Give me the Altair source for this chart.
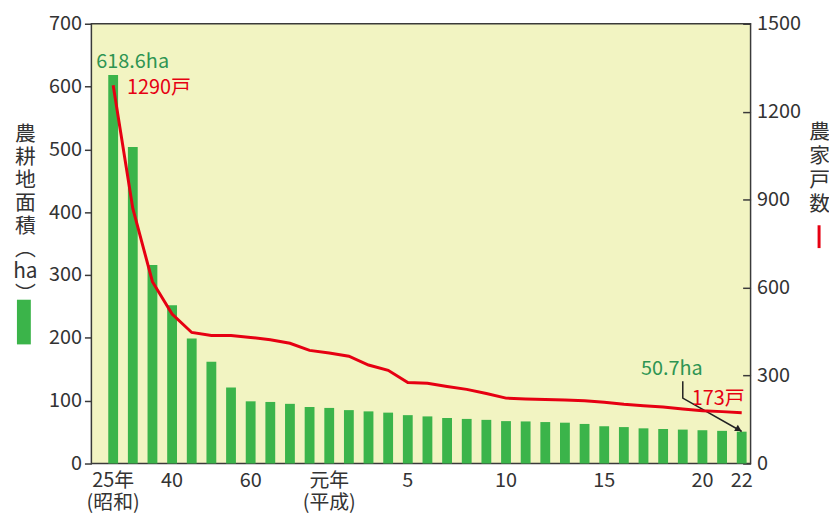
import altair as alt
import pandas as pd

# ---------------- data ----------------
categories = ["S25", "S30", "S35", "S40", "S45", "S50", "S55", "S60", "S61", "S62", "S63",
              "H1", "H2", "H3", "H4", "H5", "H6", "H7", "H8", "H9", "H10", "H11",
              "H12", "H13", "H14", "H15", "H16", "H17", "H18", "H19", "H20", "H21", "H22"]
area_ha = [618.6, 504, 316, 252, 199, 162, 121, 99, 98, 95, 90,
           88.5, 85, 83, 81, 77, 75, 72.5, 71, 69.5, 67.5, 67,
           66, 65, 63, 59.5, 58, 56, 55, 54, 53, 52, 50.7]
households = [1290, 870, 620, 510, 447, 437, 437, 430, 422, 410, 386,
              377, 366, 336, 318, 276, 274, 263, 253, 239, 223, 220,
              218, 217, 214, 209, 202, 197, 193, 186, 180, 177, 173]

tick_keys = ["S25", "S40", "S60", "H1", "H5", "H10", "H15", "H20", "H22"]
tick_lines = [["25年", "(昭和)"], ["40"], ["60"], ["元年", "(平成)"], ["5"], ["10"], ["15"], ["20"], ["22"]]

left_ticks = [0, 100, 200, 300, 400, 500, 600, 700]
right_ticks = [0, 300, 600, 900, 1200, 1500]
left_title = ["農", "耕", "地", "面", "積", "︵", "ha", "︶"]
right_title = ["農", "家", "戸", "数"]

ann_first_cat, ann_first_area, ann_first_hh = "S25", 618.6, 1290
ann_last_cat, ann_last_area, ann_last_hh = "H22", 50.7, 173
arrow_cats = ["H19", "H19", "H22"]
arrow_vals = [131, 104, 51]

GREEN = "#3bb44a"
GREEN_TXT = "#2e9452"
RED = "#e60012"
AXIS = "#3a3a3a"
FONT = "Noto Sans CJK JP"

df = pd.DataFrame({"cat": categories, "area": area_ha, "hh": households})
df_arrow = pd.DataFrame({"cat": arrow_cats, "area": arrow_vals, "i": list(range(len(arrow_cats)))})
df_one = pd.DataFrame({"k": [0]})


def js_list(lines):
    return "[" + ",".join("'" + s + "'" for s in lines) + "]"


label_expr = "''"
for k, lines in reversed(list(zip(tick_keys, tick_lines))):
    label_expr = f"datum.value == '{k}' ? {js_list(lines)} : ({label_expr})"

xscale = alt.Scale(domain=categories, paddingInner=0.5, paddingOuter=0.53, align=0.81)
X = alt.X("cat:N", scale=xscale,
          axis=alt.Axis(values=tick_keys, labelExpr=label_expr, title=None, domain=False,
                        ticks=False, labelAngle=0, labelFontSize=20, labelPadding=7,
                        labelLineHeight=22, labelColor="#333", grid=False, labelFont=FONT))
Xn = alt.X("cat:N", scale=xscale)

lscale = alt.Scale(domain=[0, 700], nice=False)
rscale = alt.Scale(domain=[0, 1500], nice=False)

YL = alt.Y("area:Q", scale=lscale,
           axis=alt.Axis(values=left_ticks, format="d", title=left_title, titleAngle=0,
                         titleX=-67, titleY=101, titleAlign="center", titleBaseline="top",
                         titleFontSize=21, titleLineHeight=23, titleFontWeight="normal",
                         titleColor="#333", titleFont=FONT, tickSize=7, tickColor=AXIS,
                         tickWidth=1.5, labelPadding=3, labelFontSize=20, labelColor="#333",
                         labelFont=FONT, domain=False, grid=False))
YLn = alt.Y("area:Q", scale=lscale)

YR = alt.Y("hh:Q", scale=rscale,
           axis=alt.Axis(orient="right", offset=-8, values=right_ticks, format="d",
                         title=right_title, titleAngle=0, titleX=77, titleY=99,
                         titleAlign="center", titleBaseline="top", titleFontSize=21,
                         titleLineHeight=24, titleFontWeight="normal", titleColor="#333",
                         titleFont=FONT, tickSize=8, tickColor=AXIS, tickWidth=1.5,
                         labelPadding=6, labelFontSize=20, labelColor="#333", labelFont=FONT,
                         domain=False, grid=False))
YRn = alt.Y("hh:Q", scale=rscale)

base = alt.Chart(df)

bars = base.mark_bar(color=GREEN).encode(x=X, y=YL)

t_first_area = alt.Chart(df[df.cat == ann_first_cat]).mark_text(
    align="left", baseline="bottom", dx=-17, dy=-3, fontSize=20, color=GREEN_TXT, font=FONT
).encode(x=Xn, y=YLn, text=alt.value(f"{ann_first_area}ha"))

arrow = alt.Chart(df_arrow).mark_line(color="#222", strokeWidth=1.5).encode(
    x=Xn, y=YLn, order="i:Q")
arrow_head = alt.Chart(df_arrow[df_arrow.i == 2]).mark_point(
    shape="triangle-right", filled=True, color="#222", size=55, angle=30, opacity=1,
    xOffset=-3, yOffset=-2
).encode(x=Xn, y=YLn)

t_last_area = alt.Chart(df_arrow[df_arrow.i == 0]).mark_text(
    align="center", baseline="bottom", dx=-11, dy=-2, fontSize=20, color=GREEN_TXT, font=FONT
).encode(x=Xn, y=YLn, text=alt.value(f"{ann_last_area}ha"))

legend_rect = alt.Chart(df_one).mark_rect(color=GREEN).encode(
    x=alt.value(-75), x2=alt.value(-61), y=alt.value(278), y2=alt.value(323))

left = alt.layer(bars, arrow, arrow_head, t_first_area, t_last_area, legend_rect)

line = base.mark_line(color=RED, strokeWidth=3).encode(x=Xn, y=YR)

t_first_hh = alt.Chart(df[df.cat == ann_first_cat]).mark_text(
    align="left", baseline="middle", dx=14, dy=3, fontSize=20, color=RED, font=FONT
).encode(x=Xn, y=YRn, text=alt.value(f"{ann_first_hh}戸"))
t_last_hh = alt.Chart(df[df.cat == ann_last_cat]).mark_text(
    align="right", baseline="bottom", dx=3, dy=-4, fontSize=20, color=RED, font=FONT
).encode(x=Xn, y=YRn, text=alt.value(f"{ann_last_hh}戸"))

legend_line = alt.Chart(df_one).mark_rule(color=RED, strokeWidth=3).encode(
    x=alt.value(733), y=alt.value(203), y2=alt.value(226))

right = alt.layer(line, t_first_hh, t_last_hh, legend_line)

chart = alt.layer(left, right).resolve_scale(y="independent").properties(
    width=664, height=443,
    autosize=alt.AutoSizeParams(type="none"),
    padding={"left": 84, "top": 14, "right": 79, "bottom": 50},
).configure(font=FONT).configure_view(fill="#f2f4c2", stroke=AXIS, strokeWidth=1.5)

chart.save("out.html", embed_options={"renderer": "svg", "actions": False})
